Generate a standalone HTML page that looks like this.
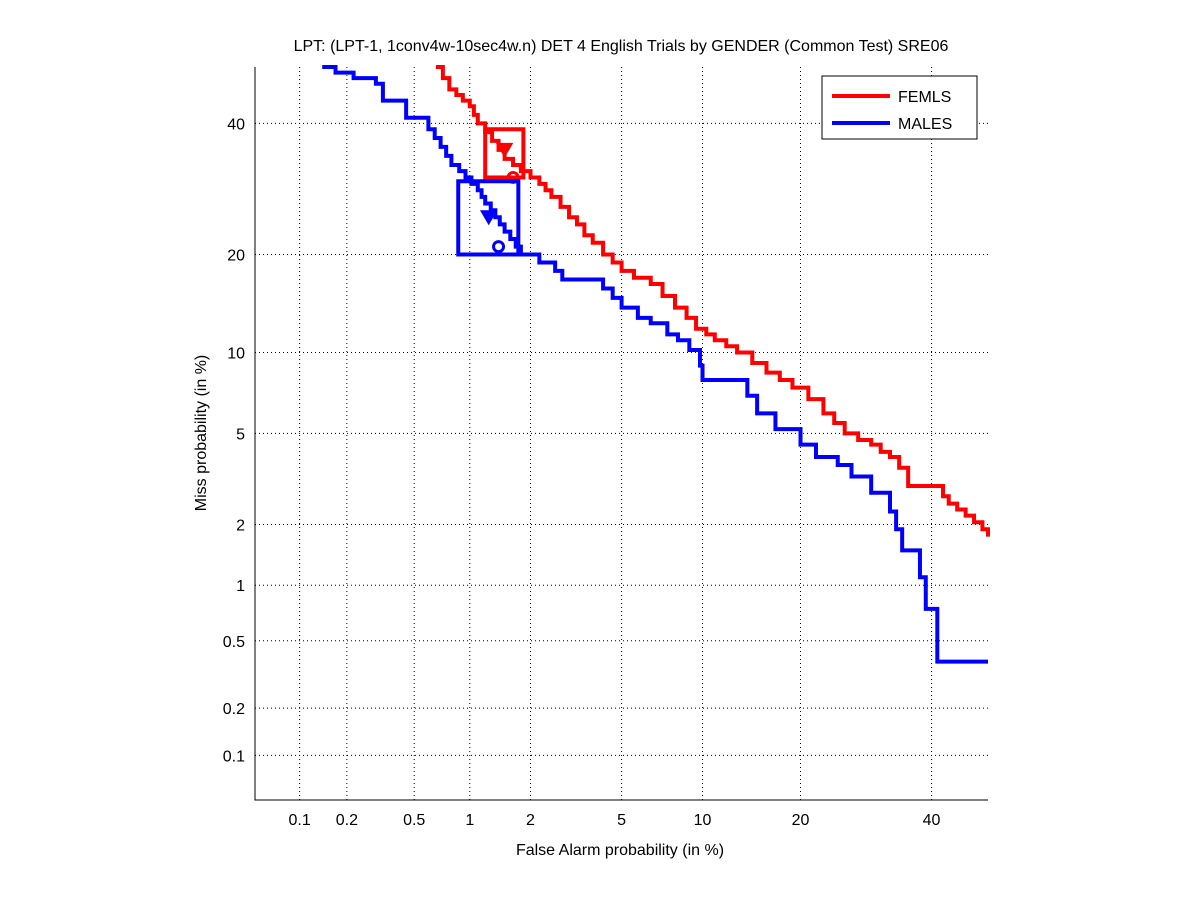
<!DOCTYPE html>
<html><head><meta charset="utf-8"><style>
body{margin:0;background:#fff;}
svg{display:block;font-family:"Liberation Sans",sans-serif;}
</style></head><body>
<svg id="chart" width="1201" height="900" xmlns="http://www.w3.org/2000/svg"></svg>
<script>
const xTicks=[0.1,0.2,0.5,1,2,5,10,20,40];
const yTicks=[0.1,0.2,0.5,1,2,5,10,20,40];
const femFA=[0.66,0.72,0.78,0.85,0.92,1.0,1.05,1.1,1.2,1.3,1.4,1.5,1.65,1.8,2.0,2.2,2.35,2.5,2.75,3,3.25,3.5,3.8,4.2,4.6,5,5.6,6.5,7.2,8,8.8,9.5,10.3,11,12,13,14.5,16,17.5,19,21,23,24.5,26,28,30,31.5,33,34.5,36,41,42,43,44.5,46,47.5,49,50];
const femMiss=[50,48,46,45,44,43,41.5,40,38.5,37,35.5,34,33,32,31,30,29,28,26.5,25,24,22.5,21.5,20,19,18,17.2,16.5,15.2,14,13,12,11.5,11,10.5,10,9.2,8.5,8,7.5,6.8,6,5.5,5,4.7,4.5,4.2,4,3.6,3,3,2.7,2.5,2.35,2.2,2.05,1.9,1.75];
const maleFA=[0.14,0.17,0.22,0.3,0.33,0.45,0.45,0.55,0.6,0.65,0.7,0.75,0.8,0.88,0.95,1.02,1.1,1.15,1.2,1.28,1.35,1.42,1.5,1.6,1.7,1.8,2.2,2.6,2.8,3.8,4.2,4.6,5,5.8,6.5,7.5,8.2,9,9.8,10,13,14,15,17,17,20,20,22,25,27,30,33,34,35,37,38,39,39,41,41,50];
const maleMiss=[50,49,48,47,44,44,41,41,39,37.5,36,34.5,33,32,31,30,29,28,27,26,25,24,23,22,21,20,19,18,17,17,16,15,14,13,12.5,11.5,11,10.2,9,8,8,7,6,6,5.2,5.2,4.5,4,3.7,3.3,2.8,2.3,1.9,1.5,1.5,1.1,1.1,0.75,0.75,0.38,0.38];
const femBox=[1.2,1.85,31,39];
const maleBox=[0.87,1.75,20,30.4];
const femMarkers=[[1.5,35.5],[1.65,31]];
const maleMarkers=[[1.25,25],[1.4,21]];

function ninv(p){
 const a=[-39.69683028665376,220.9460984245205,-275.9285104469687,138.3577518672690,-30.66479806614716,2.506628277459239];
 const b=[-54.47609879822406,161.5858368580409,-155.6989798598866,66.80131188771972,-13.28068155288572];
 const c=[-0.007784894002430293,-0.3223964580411365,-2.400758277161838,-2.549732539343734,4.374664141464968,2.938163982698783];
 const d=[0.007784695709041462,0.3224671290700398,2.445134137142996,3.754408661907416];
 let q,r;
 if(p<0.02425){q=Math.sqrt(-2*Math.log(p));return (((((c[0]*q+c[1])*q+c[2])*q+c[3])*q+c[4])*q+c[5])/((((d[0]*q+d[1])*q+d[2])*q+d[3])*q+1);}
 if(p>1-0.02425){q=Math.sqrt(-2*Math.log(1-p));return -(((((c[0]*q+c[1])*q+c[2])*q+c[3])*q+c[4])*q+c[5])/((((d[0]*q+d[1])*q+d[2])*q+d[3])*q+1);}
 q=p-0.5;r=q*q;return (((((a[0]*r+a[1])*r+a[2])*r+a[3])*r+a[4])*r+a[5])*q/(((((b[0]*r+b[1])*r+b[2])*r+b[3])*r+b[4])*r+1);
}
const L=255,R=988,T=67,B=800;
const pMin=ninv(0.0005),pMax=ninv(0.5);
const X=v=>L+(ninv(v/100)-pMin)/(pMax-pMin)*(R-L);
const Y=v=>B-(ninv(v/100)-pMin)/(pMax-pMin)*(B-T);
const svg=document.getElementById('chart');
const NS='http://www.w3.org/2000/svg';
function el(t,at,parent){const e=document.createElementNS(NS,t);for(const k in at)e.setAttribute(k,at[k]);(parent||svg).appendChild(e);return e;}

let e=el('rect',{x:L,y:T,width:R-L,height:B-T,fill:'#fff',stroke:'none'});


xTicks.forEach(v=>{
 const x=X(v);
 let g=el('line',{x1:x,x2:x,y1:T,y2:B,stroke:'#000','stroke-width':1,'stroke-dasharray':'1,3'});
 
 
 let t=el('text',{x:x,y:825,'font-size':16,'text-anchor':'middle'});t.textContent=String(v);
 
 
});
yTicks.forEach(v=>{
 const y=Y(v);
 let g=el('line',{x1:L,x2:R,y1:y,y2:y,stroke:'#000','stroke-width':1,'stroke-dasharray':'1,3'});
 
 
 let t=el('text',{x:245,y:y+6,'font-size':16,'text-anchor':'end'});t.textContent=String(v);
 
 
});
e=el('path',{d:`M${L},${T}V${B}H${R}`,fill:'none',stroke:'#000','stroke-width':1});



function stair(fa,miss){let d='';for(let i=0;i<fa.length;i++){const x=X(fa[i]),y=Y(miss[i]);if(i==0)d=`M${x},${y}`;else d+=`H${x}V${y}`;}return d;}
function series(fa,miss,col,name,box,marks){
 const g=el('g',{});
 
 
 el('path',{d:stair(fa,miss),fill:'none',stroke:col,'stroke-width':4},g);
 const b=el('rect',{x:X(box[0]),y:Y(box[3]),width:X(box[1])-X(box[0]),height:Y(box[2])-Y(box[3]),fill:'none',stroke:col,'stroke-width':4},g);
 
 
 const tx=X(marks[0][0]),ty=Y(marks[0][1]);
 const tri=el('path',{d:`M${tx-7},${ty-6}H${tx+7}L${tx},${ty+6}Z`,fill:col,stroke:col,'stroke-width':2},g);
 
 
 const c=el('circle',{cx:X(marks[1][0]),cy:Y(marks[1][1]),r:5,fill:'none',stroke:col,'stroke-width':3},g);
 
 
}
series(femFA,femMiss,'#ff0000','femls-series',femBox,femMarkers);
series(maleFA,maleMiss,'#0000ff','males-series',maleBox,maleMarkers);

const lg=el('g',{});


el('rect',{x:822,y:76,width:155,height:63,fill:'#fff',stroke:'#000','stroke-width':1},lg);
el('line',{x1:832,x2:890,y1:96,y2:96,stroke:'#ff0000','stroke-width':4},lg);
el('line',{x1:832,x2:890,y1:123,y2:123,stroke:'#0000ff','stroke-width':4},lg);
let t1=el('text',{x:898,y:102,'font-size':16},lg);t1.textContent='FEMLS';


let t2=el('text',{x:898,y:129,'font-size':16},lg);t2.textContent='MALES';



let tt=el('text',{x:621,y:51,'font-size':16,'text-anchor':'middle'});
tt.textContent='LPT: (LPT-1, 1conv4w-10sec4w.n) DET 4 English Trials by GENDER (Common Test) SRE06';


let xl=el('text',{x:620,y:855,'font-size':16,'text-anchor':'middle'});
xl.textContent='False Alarm probability (in %)';


let yl=el('text',{x:0,y:0,'font-size':16,'text-anchor':'middle',transform:'translate(206,433) rotate(-90)'});
yl.textContent='Miss probability (in %)';


</script>
</body></html>
